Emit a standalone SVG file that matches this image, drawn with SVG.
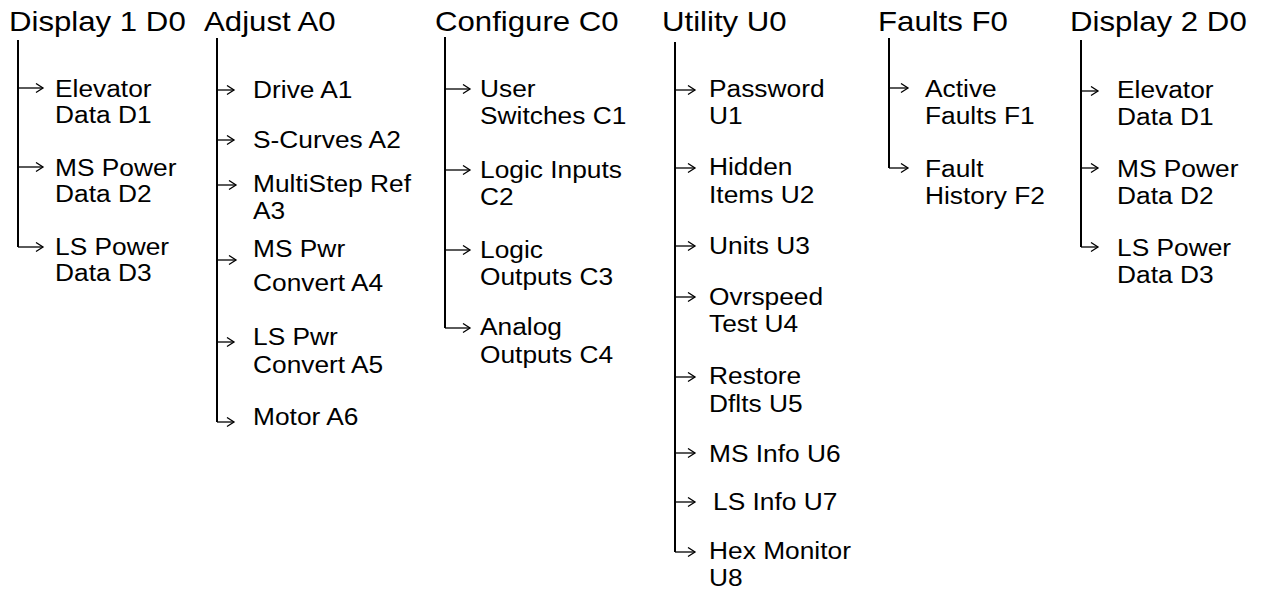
<svg xmlns="http://www.w3.org/2000/svg" width="1264" height="591" viewBox="0 0 1264 591">
<style>
  text { font-family: "Liberation Sans", Arial, sans-serif; fill: #000; }
  .h { font-size: 27px; }
  .t { font-size: 23.3px; }
  .v { stroke: #000; stroke-width: 2; fill: none; }
  .a { stroke: #000; stroke-width: 1.3; fill: none; marker-end: url(#ah); }
</style>
<defs>
  <marker id="ah" markerUnits="userSpaceOnUse" markerWidth="10" markerHeight="12" refX="8" refY="5" orient="auto">
    <path d="M1,0.5 L8,5 L1,9.5" fill="none" stroke="#000" stroke-width="1.3"/>
  </marker>
</defs>
<rect width="1264" height="591" fill="#fff"/>

<g id="connectors">
  <!-- Display 1 -->
  <path class="v" d="M18,40 V247"/>
  <path class="a" d="M18,88 H43"/>
  <path class="a" d="M18,167 H43"/>
  <path class="a" d="M18,247 H43"/>
  <!-- Adjust -->
  <path class="v" d="M217,38 V422"/>
  <path class="a" d="M217,90 H234"/>
  <path class="a" d="M217,140 H234"/>
  <path class="a" d="M217,185 H236"/>
  <path class="a" d="M217,260 H236"/>
  <path class="a" d="M217,342 H234"/>
  <path class="a" d="M217,422 H234"/>
  <!-- Configure -->
  <path class="v" d="M445,37 V328"/>
  <path class="a" d="M445,89 H470"/>
  <path class="a" d="M445,170 H470"/>
  <path class="a" d="M445,250 H470"/>
  <path class="a" d="M445,328 H470"/>
  <!-- Utility -->
  <path class="v" d="M675,42 V552"/>
  <path class="a" d="M675,90 H695"/>
  <path class="a" d="M675,168 H695"/>
  <path class="a" d="M675,246 H695"/>
  <path class="a" d="M675,297 H695"/>
  <path class="a" d="M675,377 H695"/>
  <path class="a" d="M675,453 H695"/>
  <path class="a" d="M675,502 H695"/>
  <path class="a" d="M675,552 H695"/>
  <!-- Faults -->
  <path class="v" d="M889,38 V168"/>
  <path class="a" d="M889,88 H908"/>
  <path class="a" d="M889,168 H908"/>
  <!-- Display 2 -->
  <path class="v" d="M1081,40 V247"/>
  <path class="a" d="M1081,91 H1098"/>
  <path class="a" d="M1081,168 H1098"/>
  <path class="a" d="M1081,247 H1098"/>
</g>

<g id="display1">
  <text class="h" transform="translate(9 31) scale(1.155 1)">Display 1 D0</text>
</g>
<g id="d1-elevator"><text class="t" transform="translate(55 97) scale(1.13 1)">Elevator<tspan x="0" y="26.5">Data D1</tspan></text></g>
<g id="d1-mspower"><text class="t" transform="translate(55 176) scale(1.13 1)">MS Power<tspan x="0" y="26.5">Data D2</tspan></text></g>
<g id="d1-lspower"><text class="t" transform="translate(55 255) scale(1.13 1)">LS Power<tspan x="0" y="26.5">Data D3</tspan></text></g>

<g id="adjust">
  <text class="h" transform="translate(204 31) scale(1.155 1)">Adjust A0</text>
</g>
<g id="a-drive"><text class="t" transform="translate(253 98) scale(1.13 1)">Drive A1</text></g>
<g id="a-scurves"><text class="t" transform="translate(253 148) scale(1.13 1)">S-Curves A2</text></g>
<g id="a-multistep"><text class="t" transform="translate(253 192) scale(1.13 1)">MultiStep Ref<tspan x="0" y="27">A3</tspan></text></g>
<g id="a-mspwr"><text class="t" transform="translate(253 257) scale(1.13 1)">MS Pwr<tspan x="0" y="34">Convert A4</tspan></text></g>
<g id="a-lspwr"><text class="t" transform="translate(253 345) scale(1.13 1)">LS Pwr<tspan x="0" y="28.5">Convert A5</tspan></text></g>
<g id="a-motor"><text class="t" transform="translate(253 425) scale(1.13 1)">Motor A6</text></g>

<g id="configure">
  <text class="h" transform="translate(435 31) scale(1.155 1)">Configure C0</text>
</g>
<g id="c-user"><text class="t" transform="translate(480 97) scale(1.13 1)">User<tspan x="0" y="27">Switches C1</tspan></text></g>
<g id="c-logicin"><text class="t" transform="translate(480 178) scale(1.13 1)">Logic Inputs<tspan x="0" y="27">C2</tspan></text></g>
<g id="c-logicout"><text class="t" transform="translate(480 258) scale(1.13 1)">Logic<tspan x="0" y="27">Outputs C3</tspan></text></g>
<g id="c-analog"><text class="t" transform="translate(480 335) scale(1.13 1)">Analog<tspan x="0" y="28">Outputs C4</tspan></text></g>

<g id="utility">
  <text class="h" transform="translate(662 31) scale(1.155 1)">Utility U0</text>
</g>
<g id="u-password"><text class="t" transform="translate(709 97) scale(1.13 1)">Password<tspan x="0" y="27">U1</tspan></text></g>
<g id="u-hidden"><text class="t" transform="translate(709 175) scale(1.13 1)">Hidden<tspan x="0" y="28">Items U2</tspan></text></g>
<g id="u-units"><text class="t" transform="translate(709 254) scale(1.13 1)">Units U3</text></g>
<g id="u-ovrspeed"><text class="t" transform="translate(709 305) scale(1.13 1)">Ovrspeed<tspan x="0" y="27.5">Test U4</tspan></text></g>
<g id="u-restore"><text class="t" transform="translate(709 384) scale(1.13 1)">Restore<tspan x="0" y="28">Dflts U5</tspan></text></g>
<g id="u-msinfo"><text class="t" transform="translate(709 462) scale(1.13 1)">MS Info U6</text></g>
<g id="u-lsinfo"><text class="t" transform="translate(713 510) scale(1.13 1)">LS Info U7</text></g>
<g id="u-hex"><text class="t" transform="translate(709 559) scale(1.13 1)">Hex Monitor<tspan x="0" y="27.5">U8</tspan></text></g>

<g id="faults">
  <text class="h" transform="translate(878 31) scale(1.155 1)">Faults F0</text>
</g>
<g id="f-active"><text class="t" transform="translate(925 97) scale(1.13 1)">Active<tspan x="0" y="27.5">Faults F1</tspan></text></g>
<g id="f-history"><text class="t" transform="translate(925 177) scale(1.13 1)">Fault<tspan x="0" y="27.5">History F2</tspan></text></g>

<g id="display2">
  <text class="h" transform="translate(1070 31) scale(1.155 1)">Display 2 D0</text>
</g>
<g id="d2-elevator"><text class="t" transform="translate(1117 98) scale(1.13 1)">Elevator<tspan x="0" y="27">Data D1</tspan></text></g>
<g id="d2-mspower"><text class="t" transform="translate(1117 177) scale(1.13 1)">MS Power<tspan x="0" y="27">Data D2</tspan></text></g>
<g id="d2-lspower"><text class="t" transform="translate(1117 256) scale(1.13 1)">LS Power<tspan x="0" y="27">Data D3</tspan></text></g>
</svg>
